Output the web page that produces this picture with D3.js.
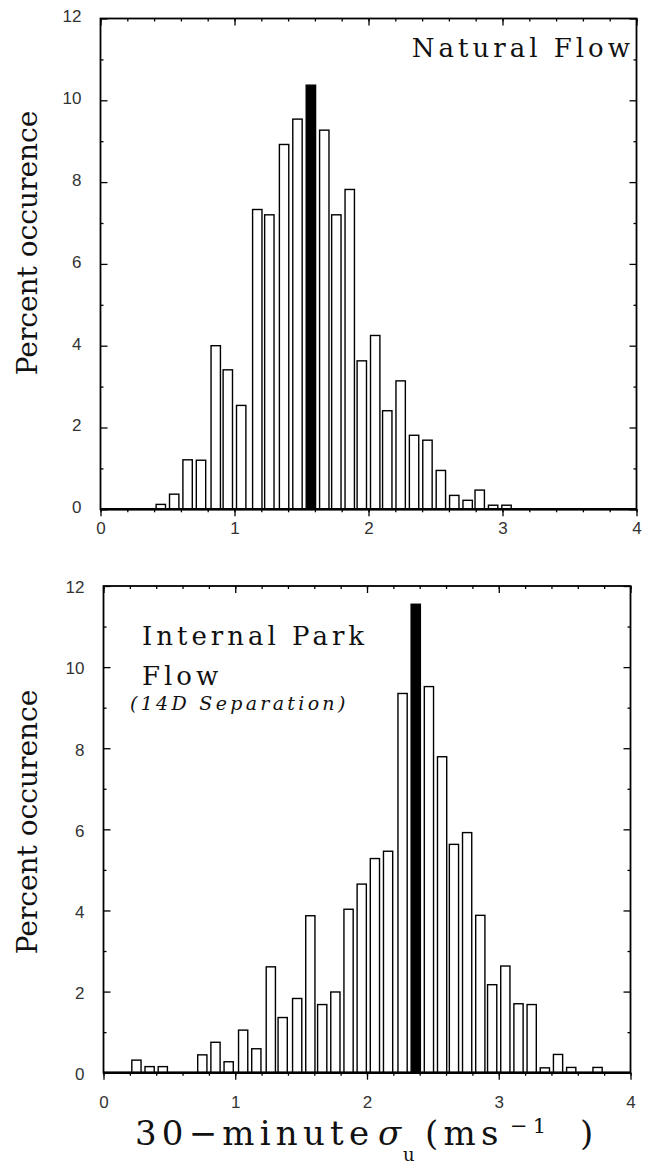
<!DOCTYPE html>
<html>
<head>
<meta charset="utf-8">
<script src="https://cdn.jsdelivr.net/npm/d3@7"></script>
<style>
  body { margin: 0; background: #fff; }
  .tick text { font-family: "Liberation Sans", Arial, sans-serif; font-size: 17px; fill: #333; }
  .serif { font-family: "DejaVu Serif", serif; fill: #111; }
</style>
</head>
<body>
<div id="chart"></div>
<script>
// Natural flow: bin centres and percent occurence
const naturalBins = [0.45, 0.55, 0.65, 0.75, 0.86, 0.95, 1.05, 1.17, 1.26, 1.37, 1.47, 1.57, 1.67, 1.76,
  1.86, 1.95, 2.05, 2.14, 2.24, 2.34, 2.44, 2.54, 2.64, 2.74, 2.83, 2.93, 3.03];
const naturalPct = [0.12, 0.37, 1.21, 1.2, 4.0, 3.41, 2.54, 7.33, 7.2, 8.92, 9.54, 10.37, 9.27, 7.2,
  7.82, 3.63, 4.25, 2.41, 3.14, 1.81, 1.69, 0.95, 0.34, 0.22, 0.47, 0.1, 0.1];
const naturalMean = 1.57; // filled bar

// Internal park flow (14D separation)
const parkBins = [0.25, 0.35, 0.45, 0.75, 0.85, 0.95, 1.06, 1.16, 1.27, 1.36, 1.47, 1.57, 1.66, 1.76,
  1.86, 1.96, 2.06, 2.16, 2.27, 2.37, 2.47, 2.57, 2.66, 2.76, 2.86, 2.95, 3.05, 3.15, 3.25, 3.35,
  3.45, 3.55, 3.75];
const parkPct = [0.31, 0.15, 0.15, 0.44, 0.75, 0.27, 1.05, 0.59, 2.61, 1.36, 1.83, 3.87, 1.68, 1.99,
  4.03, 4.65, 5.28, 5.46, 9.35, 11.55, 9.52, 7.79, 5.63, 5.92, 3.88, 2.17, 2.63, 1.7, 1.68, 0.12,
  0.45, 0.13, 0.13];
const parkMean = 2.37;

const xTicks = [0, 1, 2, 3, 4];
const xMinor = d3.range(0, 4.01, 0.2);
const yTicks = [0, 2, 4, 6, 8, 10, 12];
const yMinor = [1, 3, 5, 7, 9, 11];

const width = 645;
const height = 1168;
const barW = 0.07;

const svg = d3.select("#chart")
  .append("svg")
  .attr("width", width)
  .attr("height", height);

svg.append("rect").attr("width", width).attr("height", height).attr("fill", "#fff");

function panel(p) {
  const x = d3.scaleLinear().domain([0, 4]).range([p.left, p.right]);
  const y = d3.scaleLinear().domain([0, 12]).range([p.bottom, p.top]);
  const g = svg.append("g");

  const bars = p.bins.map((b, i) => ({ b: b, v: p.pct[i] }));
  g.selectAll(".bar")
    .data(bars)
    .enter()
    .append("rect")
    .attr("class", "bar")
    .attr("x", d => x(d.b - barW / 2))
    .attr("width", d => x(d.b + barW / 2) - x(d.b - barW / 2))
    .attr("y", d => y(d.v))
    .attr("height", d => y(0) - y(d.v))
    .attr("fill", d => d.b === p.mean ? "#000" : "#fff")
    .attr("stroke", "#000")
    .attr("stroke-width", 1.4);

  // left axis, ticks inside
  const left = g.append("g").attr("transform", `translate(${p.left},0)`);
  left.call(d3.axisLeft(y).tickValues(yTicks).tickSize(-7).tickPadding(19).tickFormat(d3.format("d")));
  left.append("g").call(d3.axisLeft(y).tickValues(yMinor).tickSize(-3).tickFormat(""));
  left.selectAll(".tick text").attr("dy", p.yLabelDy);

  const right = g.append("g").attr("transform", `translate(${p.right},0)`);
  right.call(d3.axisRight(y).tickValues(yTicks).tickSize(-7).tickFormat(""));
  right.append("g").call(d3.axisRight(y).tickValues(yMinor).tickSize(-3).tickFormat(""));

  const top = g.append("g").attr("transform", `translate(0,${p.top})`);
  top.call(d3.axisTop(x).tickValues(xTicks).tickSize(-7).tickFormat(""));
  top.append("g").call(d3.axisTop(x).tickValues(xMinor).tickSize(-3).tickFormat(""));

  const bottom = g.append("g").attr("transform", `translate(0,${p.bottom})`);
  bottom.call(d3.axisBottom(x).tickValues(xTicks).tickSize(7).tickPadding(p.xPad).tickFormat(d3.format("d")));
  bottom.append("g").call(d3.axisBottom(x).tickValues(xMinor).tickSize(3).tickFormat(""));

  g.selectAll(".domain").remove();
  g.selectAll(".tick line").attr("stroke", "#000").attr("stroke-width", 1.3);

  // frame
  g.append("rect")
    .attr("x", p.left).attr("y", p.top)
    .attr("width", p.right - p.left).attr("height", p.bottom - p.top)
    .attr("fill", "none").attr("stroke", "#000").attr("stroke-width", 1.8);
  g.append("line")
    .attr("x1", p.left).attr("x2", p.right)
    .attr("y1", p.bottom).attr("y2", p.bottom)
    .attr("stroke", "#000").attr("stroke-width", 2.6);

  // y axis title
  g.append("text")
    .attr("class", "serif")
    .attr("transform", `translate(37,${p.labelY}) rotate(-90)`)
    .attr("text-anchor", "middle")
    .attr("font-size", 28)
    .text("Percent occurence");

  return g;
}

const g1 = panel({
  left: 100.5, right: 636.5, top: 18.5, bottom: 509.3,
  bins: naturalBins, pct: naturalPct, mean: naturalMean,
  xPad: 6, yLabelDy: "0.2em", labelY: 243
});
g1.append("text")
  .attr("class", "serif")
  .attr("x", 634).attr("y", 57)
  .attr("text-anchor", "end")
  .attr("font-size", 26)
  .attr("letter-spacing", 4)
  .text("Natural Flow");

const g2 = panel({
  left: 103.5, right: 630.5, top: 586, bottom: 1072.7,
  bins: parkBins, pct: parkPct, mean: parkMean,
  xPad: 16, yLabelDy: "0.4em", labelY: 822
});
g2.append("text")
  .attr("class", "serif")
  .attr("x", 142).attr("y", 645)
  .attr("font-size", 26)
  .attr("letter-spacing", 4)
  .text("Internal Park");
g2.append("text")
  .attr("class", "serif")
  .attr("x", 142).attr("y", 685)
  .attr("font-size", 26)
  .attr("letter-spacing", 4)
  .text("Flow");
g2.append("text")
  .attr("class", "serif")
  .attr("x", 130).attr("y", 710)
  .attr("font-size", 19)
  .attr("font-style", "italic")
  .attr("letter-spacing", 3.3)
  .text("(14D Separation)");

// x axis title
const xt = svg.append("text")
  .attr("class", "serif")
  .attr("x", 135).attr("y", 1145)
  .attr("font-size", 34)
  .attr("letter-spacing", 5.2);
xt.append("tspan").text("30\u2212minute");
xt.append("tspan").attr("x", 378).attr("font-style", "italic").attr("letter-spacing", 0).text("\u03c3");
xt.append("tspan").attr("x", 403).attr("font-size", 18).attr("letter-spacing", 0).attr("dy", 16).text("u");
xt.append("tspan").attr("x", 425).attr("dy", -16).text("(ms");
xt.append("tspan").attr("x", 510).attr("font-size", 21).attr("dy", -12).text("\u22121");
xt.append("tspan").attr("x", 580).attr("dy", 12).text(")");
</script>
</body>
</html>
